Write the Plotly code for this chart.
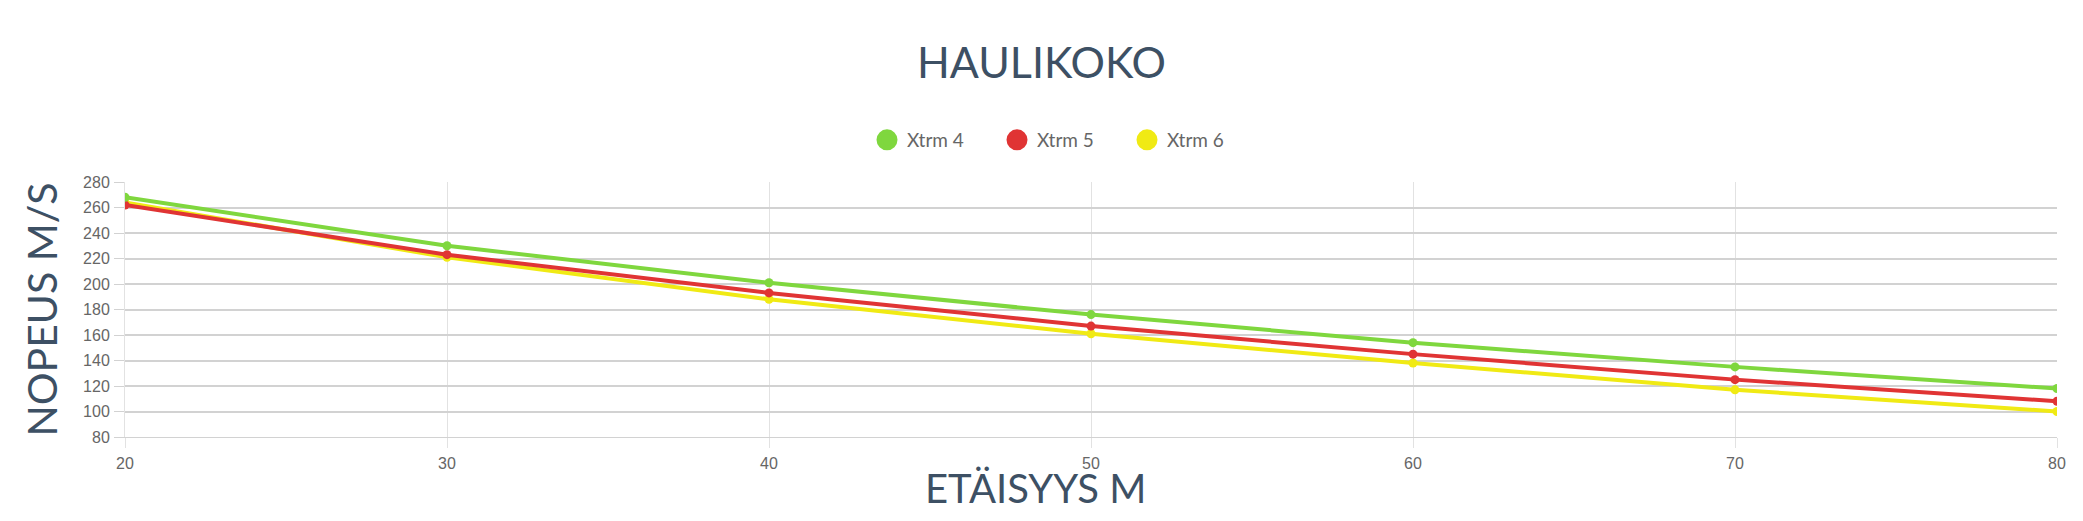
import plotly.graph_objects as go

distances = [20, 30, 40, 50, 60, 70, 80]
series_names = ["Xtrm 4", "Xtrm 5", "Xtrm 6"]
xtrm4 = [268, 230, 201, 176, 154, 135, 118]
xtrm5 = [262, 223, 193, 167, 145, 125, 108]
xtrm6 = [264, 221, 188, 161, 138, 117, 100]
colors = ["#7fd73e", "#e03434", "#f0ea14"]

title_text = "HAULIKOKO"
x_title = "ETÄISYYS M"
y_title = "NOPEUS M/S"

# page body has an 8px margin; the figure is sized to fit inside it
W, H = 2067, 505
TITLE_FONT = "Lato, 'Open Sans', sans-serif"
TICK_FONT = "'Liberation Sans', Arial, sans-serif"
DARK = "#3d5064"

fig = go.Figure()
order = [2, 1, 0]
data = [xtrm4, xtrm5, xtrm6]
for i in order:
    fig.add_trace(go.Scatter(
        x=distances, y=data[i], name=series_names[i], mode="lines+markers",
        line=dict(color=colors[i], width=4),
        marker=dict(color=colors[i], size=9),
        legendgroup=series_names[i], showlegend=False,
    ))
for i in range(3):
    fig.add_trace(go.Scatter(
        x=[None], y=[None], name=series_names[i], mode="markers",
        marker=dict(color=colors[i], size=30, line=dict(color=colors[i], width=5)),
        legendgroup=series_names[i], showlegend=True,
    ))

grid_h = "#d2d2d2"
grid_v = "#e2e2e2"

L, R, T, B = 117, 9, 174, 76

fig.update_layout(
    width=W, height=H,
    margin=dict(l=L, r=R, t=T, b=B),
    paper_bgcolor="white", plot_bgcolor="white",
    title=dict(text=title_text, x=0.5, xref="container", xanchor="center",
               y=1 - 55 / H, yref="container", yanchor="middle",
               font=dict(family=TITLE_FONT, size=43, color=DARK)),
    legend=dict(orientation="h", xref="container", yref="container",
                x=859 / W, xanchor="left", y=1 - 132 / H, yanchor="middle",
                font=dict(family=TITLE_FONT, size=19, color="#666666"),
                entrywidth=85),
    showlegend=True,
    xaxis=dict(range=[20, 80], dtick=10, tick0=20, showgrid=True, gridcolor=grid_v, gridwidth=1,
               zeroline=False, showline=True, linecolor=grid_h, linewidth=1,
               ticks="outside", ticklen=10, tickcolor=grid_v,
               tickfont=dict(family=TICK_FONT, size=16, color="#666666"),
               ticklabelstandoff=2),
    yaxis=dict(range=[80, 280], dtick=20, tick0=80, showgrid=True, gridcolor=grid_h, gridwidth=1.5,
               zeroline=False, showline=True, linecolor=grid_v, linewidth=1,
               ticks="outside", ticklen=10, tickcolor=grid_h,
               tickfont=dict(family=TICK_FONT, size=16, color="#666666"),
               ticklabelstandoff=1,
               title=dict(text=y_title, font=dict(family=TITLE_FONT, size=41, color=DARK), standoff=12)),
    annotations=[dict(text=x_title, xref="paper", yref="paper",
                      x=(1032 - L) / (W - L - R), y=-(480 - (H - B)) / (H - B - T),
                      xanchor="center", yanchor="middle", showarrow=False,
                      font=dict(family=TITLE_FONT, size=40, color=DARK))],
)

fig.write_html("out.html")
